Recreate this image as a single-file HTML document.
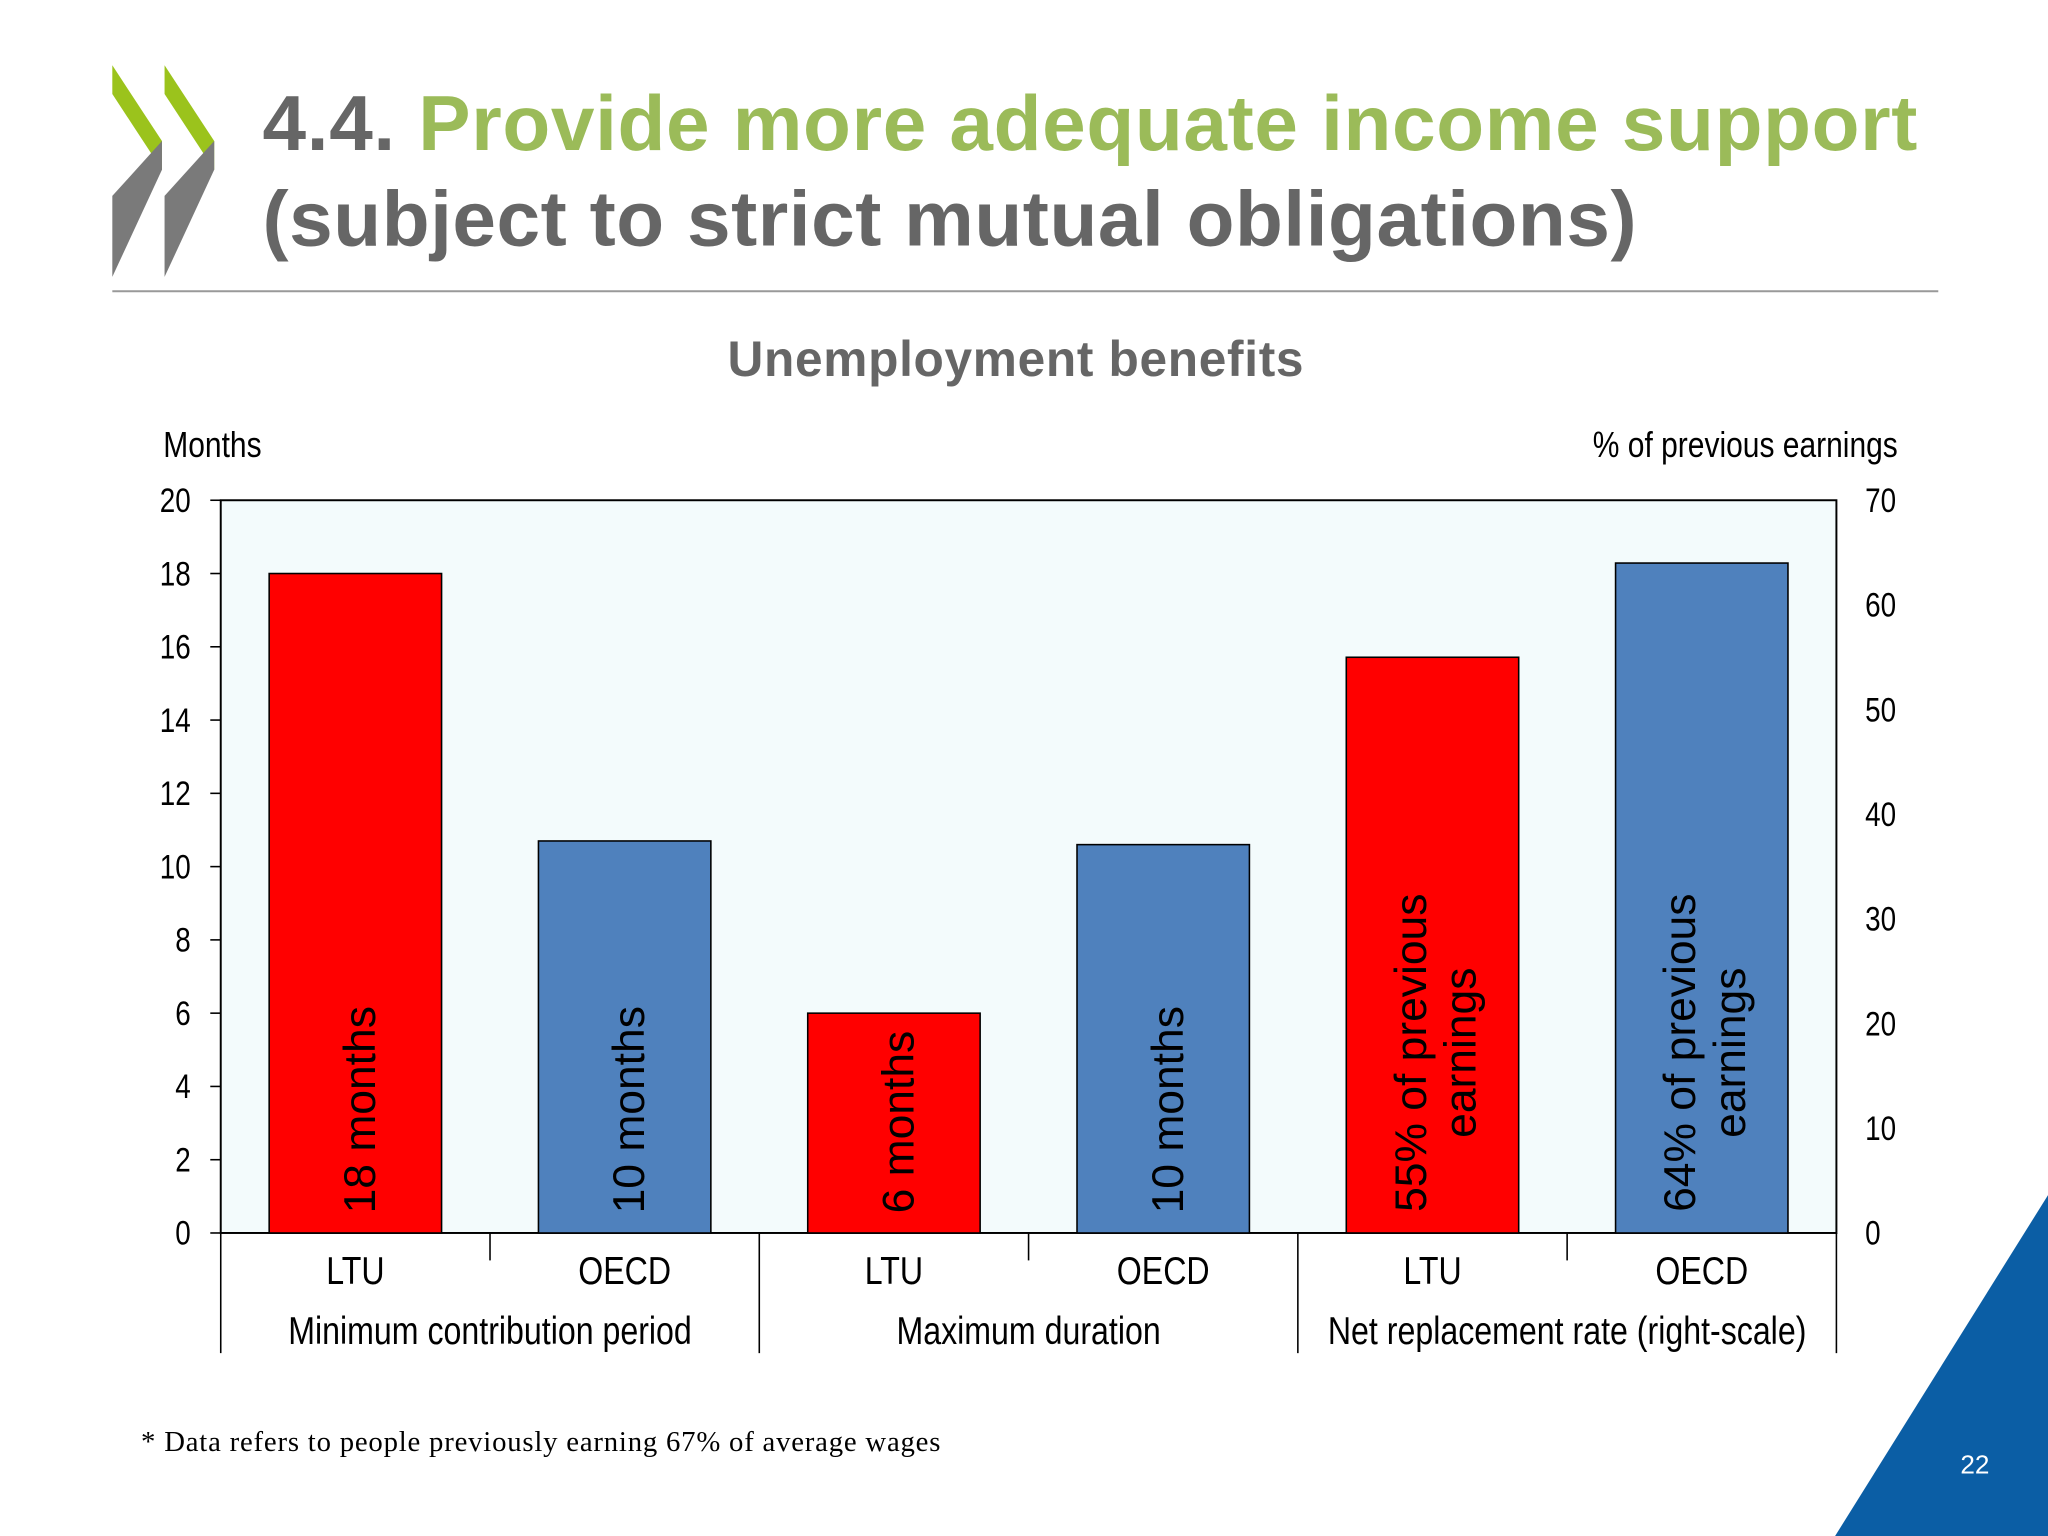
<!DOCTYPE html>
<html><head><meta charset="utf-8"><style>
html,body{margin:0;padding:0;background:#fff}
svg{display:block}
.n{font-family:"Liberation Sans",sans-serif}
.s{font-family:"Liberation Sans",sans-serif}
</style></head><body>
<svg id="c" width="2048" height="1536" viewBox="0 0 1568 1176" xmlns="http://www.w3.org/2000/svg">
<g>
<polygon points="86,50 124,108 124,130 86,72" fill="#9bc31c"/>
<polygon points="86,150 124,108 124,130 86,212" fill="#7a7a7a"/>
<polygon points="126,50 164,108 164,130 126,72" fill="#9bc31c"/>
<polygon points="126,150 164,108 164,130 126,212" fill="#7a7a7a"/>
</g>
<text x="201" y="115" class="s" font-size="60" font-weight="bold" fill="#666" textLength="1267" lengthAdjust="spacing">4.4. <tspan fill="#9bbb59">Provide more adequate income support</tspan></text>
<text x="201" y="188" class="s" font-size="60" font-weight="bold" fill="#666" textLength="1052" lengthAdjust="spacing">(subject to strict mutual obligations)</text>
<line x1="86" y1="223" x2="1484" y2="223" stroke="#999" stroke-width="1.5"/>
<text x="557" y="288" class="s" font-size="38" font-weight="bold" fill="#666" textLength="441" lengthAdjust="spacing">Unemployment benefits</text>
<text transform="translate(125,350) scale(0.82,1)" class="n" font-size="28" fill="#000">Months</text>
<text transform="translate(1453,350) scale(0.82,1)" text-anchor="end" class="n" font-size="28" fill="#000">% of previous earnings</text>
<g id="plot"></g>
<text x="108" y="1111" font-family="Liberation Serif,serif" font-size="22" fill="#000" textLength="612" lengthAdjust="spacing">* Data refers to people previously earning 67% of average wages</text>
<polygon points="1568,915 1568,1176 1405,1176" fill="#0b5ea5"/>
<text x="1512" y="1128" text-anchor="middle" class="s" font-size="20" fill="#fff">22</text>
</svg>
<script>
const categories=["LTU","OECD","LTU","OECD","LTU","OECD"];
const groups=["Minimum contribution period","Maximum duration","Net replacement rate (right-scale)"];
const values=[18,10.7,6,10.6,55,64];
const useRight=[false,false,false,false,true,true];
const barLabels=[["18 months"],["10 months"],["6 months"],["10 months"],["55% of previous","earnings"],["64% of previous","earnings"]];
const leftTicks=[0,2,4,6,8,10,12,14,16,18,20];
const rightTicks=[0,10,20,30,40,50,60,70];
const NS="http://www.w3.org/2000/svg";
const g=document.getElementById('plot');
const X0=169,X1=1406,Y0=944,Y1=383;
const yL=v=>Y0-(v/20)*(Y0-Y1);
const yR=v=>Y0-(v/70)*(Y0-Y1);
const slot=(X1-X0)/categories.length;
const xc=i=>X0+slot*(i+0.5);
const SX=0.82;
function el(t,a){const e=document.createElementNS(NS,t);for(const k in a)e.setAttribute(k,a[k]);g.appendChild(e);return e;}
let bg=el('rect',{x:X0,y:Y1,width:X1-X0,height:Y0-Y1,fill:'#f3fbfc',stroke:'#000','stroke-width':1.5});


leftTicks.forEach(v=>{
 let l=el('line',{x1:X0-8,x2:X0,y1:yL(v),y2:yL(v),stroke:'#000','stroke-width':1.2});
 
 
 let t=el('text',{transform:`translate(146,${yL(v)+9}) scale(${SX},1)`,'text-anchor':'end',class:'n','font-size':26});t.textContent=v;
 
 
});
rightTicks.forEach(v=>{
 let t=el('text',{transform:`translate(1428,${yR(v)+9}) scale(${SX},1)`,class:'n','font-size':26});t.textContent=v;
 
 
});
values.forEach((v,i)=>{
 const top=useRight[i]?yR(v):yL(v);
 const w=132;
 let r=el('rect',{x:xc(i)-w/2,y:top,width:w,height:Y0-top,fill:i%2==0?'#ff0000':'#4f81bd',stroke:'#000','stroke-width':1.2});
 
 
 const L=barLabels[i];
 let t;
 if(L.length==1){
  t=el('text',{x:0,y:0,transform:`translate(${xc(i)+15},929) rotate(-90)`,class:'s','font-size':34});
  t.textContent=L[0];
 } else {
  t=el('text',{x:0,y:0,transform:`translate(${xc(i)-5},806) rotate(-90)`,'text-anchor':'middle',class:'s','font-size':34});
  L.forEach((s,k)=>{const ts=document.createElementNS(NS,'tspan');ts.setAttribute('x',0);ts.setAttribute('dy',k?38:0);ts.textContent=s;t.appendChild(ts);});
 }
 
 
 let c=el('text',{transform:`translate(${xc(i)},983) scale(${SX},1)`,'text-anchor':'middle',class:'n','font-size':30});c.textContent=categories[i];
 
 
});
for(let i=1;i<categories.length;i++){
 if(i%2==1){let l=el('line',{x1:X0+slot*i,x2:X0+slot*i,y1:Y0,y2:965,stroke:'#000','stroke-width':1.2});
 
 }
}
for(let k=0;k<=groups.length;k++){
 const x=X0+slot*2*k;
 let l=el('line',{x1:x,x2:x,y1:Y0,y2:1036,stroke:'#000','stroke-width':1.2});
 
 
}
groups.forEach((s,k)=>{
 let t=el('text',{transform:`translate(${X0+slot*(2*k+1)},1029) scale(${SX},1)`,'text-anchor':'middle',class:'n','font-size':30});t.textContent=s;
 
 
});
</script>
</body></html>
